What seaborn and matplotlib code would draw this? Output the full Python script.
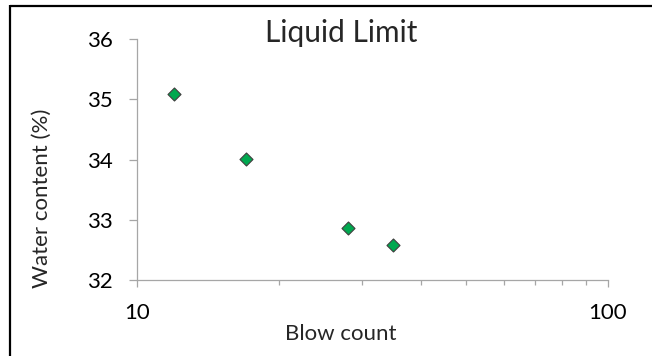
import matplotlib
matplotlib.use("Agg")
import matplotlib.pyplot as plt
import seaborn as sns
import pandas as pd
from matplotlib.ticker import FixedLocator, FuncFormatter, NullFormatter
from matplotlib.lines import Line2D

# Liquid limit test results
blow_count = [12, 17, 28, 35]
water_content = [35.08, 34.01, 32.87, 32.58]

y_ticks = [32, 33, 34, 35, 36]
x_major_ticks = [10, 100]
x_minor_ticks = [20, 30, 40, 50, 60, 70, 80, 90]

sns.set_style("white")
plt.rcParams["font.family"] = ["Lato", "DejaVu Sans"]

W, H = 652, 356
fig = plt.figure(figsize=(W / 100, H / 100), dpi=100)
ax = fig.add_axes([137 / W, 1 - 280 / H, 471 / W, 241 / H])

df = pd.DataFrame({"Blow count": blow_count, "Water content (%)": water_content})
sns.scatterplot(data=df, x="Blow count", y="Water content (%)", ax=ax,
                marker="D", s=44, color="#00A84F", edgecolor="#3F3F3F",
                linewidth=0.8, zorder=3, clip_on=False)

ax.set_xscale("log")
ax.set_xlim(10, 100)
ax.set_ylim(32, 36)

ax.xaxis.set_major_locator(FixedLocator(x_major_ticks))
ax.xaxis.set_minor_locator(FixedLocator(x_minor_ticks))
ax.xaxis.set_major_formatter(FuncFormatter(lambda v, p: f"{v:g}"))
ax.xaxis.set_minor_formatter(NullFormatter())
ax.yaxis.set_major_locator(FixedLocator(y_ticks))
ax.yaxis.set_major_formatter(FuncFormatter(lambda v, p: f"{v:g}"))

axis_grey = "#A6A6A6"
for side in ("top", "right"):
    ax.spines[side].set_visible(False)
for side in ("left", "bottom"):
    ax.spines[side].set_color(axis_grey)
    ax.spines[side].set_linewidth(0.9)

ax.tick_params(axis="y", which="major", direction="out", length=6, width=0.9,
               color=axis_grey, pad=11.5, labelsize=16, labelcolor="black", left=True)
ax.tick_params(axis="x", which="major", direction="out", length=5, width=0.9,
               color=axis_grey, pad=11.5, labelsize=16, labelcolor="black", bottom=True)
ax.tick_params(axis="x", which="minor", direction="out", length=3.8, width=0.9,
               color=axis_grey, bottom=True)

ax.set_xlabel("Blow count", fontsize=16)
ax.set_ylabel("Water content (%)", fontsize=16)
ax.xaxis.set_label_coords(341 / W, 1 - 340 / H, transform=fig.transFigure)
ax.xaxis.label.set_va("baseline")
ax.yaxis.set_label_coords(48 / W, 1 - 198 / H, transform=fig.transFigure)
ax.yaxis.label.set_va("baseline")

fig.text(341 / W, 1 - 42 / H, "Liquid Limit", ha="center", va="baseline",
         fontsize=21.5)

# chart frame edges along the top and left
fig.add_artist(Line2D([10 / W, 10 / W], [0, 1 - 5 / H], transform=fig.transFigure,
                      color="black", linewidth=1.6, solid_capstyle="butt"))
fig.add_artist(Line2D([10 / W, 1], [1 - 5.5 / H, 1 - 5.5 / H], transform=fig.transFigure,
                      color="black", linewidth=1.6, solid_capstyle="butt"))

fig.savefig("out.png", dpi=100)
